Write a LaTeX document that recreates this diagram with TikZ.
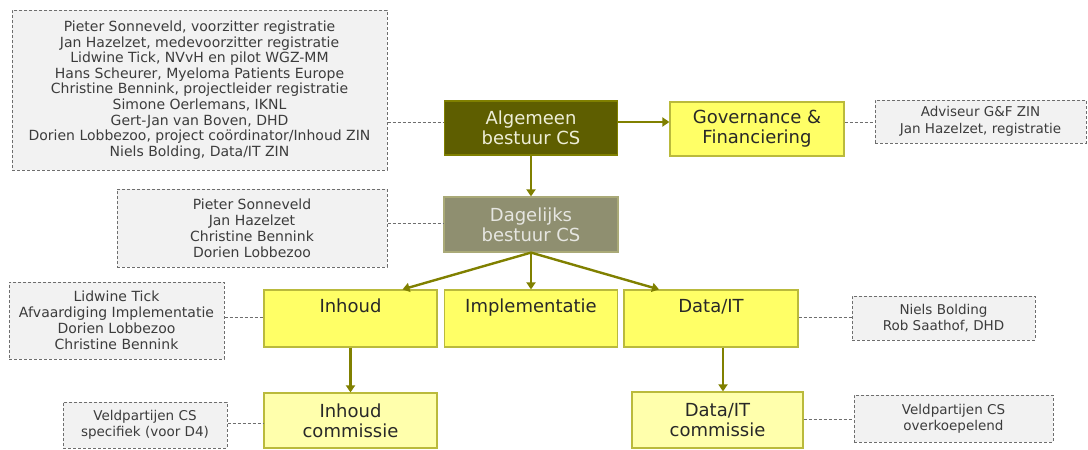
\documentclass[tikz,border=0pt]{standalone}
\usepackage{fontspec}
\setmainfont{DejaVu Sans}
\usetikzlibrary{arrows.meta}
\definecolor{olivedark}{RGB}{94,94,0}
\definecolor{olivemid}{RGB}{143,143,112}
\definecolor{oliveline}{RGB}{128,128,0}
\definecolor{yelbox}{RGB}{255,255,102}
\definecolor{yellight}{RGB}{255,255,172}
\definecolor{yelborder}{RGB}{186,186,60}
\definecolor{notefill}{RGB}{242,242,242}
\definecolor{notedraw}{RGB}{110,110,110}
\definecolor{notetext}{RGB}{60,60,60}
\definecolor{boxtext}{RGB}{40,40,40}
\tikzset{
  notebox/.style={draw=notedraw, line width=1pt, dash pattern=on 3pt off 2pt, fill=notefill,
    text=notetext, align=center, inner sep=0pt, anchor=center,
    font=\fontsize{14}{16}\selectfont},
  orgbox/.style={draw=yelborder, line width=1.2pt, fill=yelbox, text=boxtext, align=center,
    inner sep=0pt, anchor=center, font=\fontsize{18}{20}\selectfont},
  combox/.style={orgbox, fill=yellight},
  arr/.style={draw=oliveline, line width=2.4pt, -{Triangle[width=9pt,length=7pt]}},
  dashcon/.style={draw=notedraw, line width=1pt, dash pattern=on 3pt off 2pt},
}
\begin{document}
\begin{tikzpicture}[x=1pt,y=-1pt]
\useasboundingbox (0,0) rectangle (1088,450);

% main boxes
\node[orgbox, fill=olivedark, draw=oliveline, text={rgb,255:red,238;green,238;blue,215},
  minimum width=173pt, minimum height=54pt] (alg) at (531,128) {Algemeen\\bestuur CS};
\node[orgbox, minimum width=174pt, minimum height=54pt] (gov) at (757,129) {Governance \&\\Financiering};
\node[orgbox, fill=olivemid, draw={rgb,255:red,170;green,170;blue,120}, text={rgb,255:red,230;green,230;blue,225},
  minimum width=174pt, minimum height=55pt] (dag) at (531,224.5) {Dagelijks\\bestuur CS};

\node[orgbox, minimum width=173pt, minimum height=57pt] (inh) at (350.5,318.5) {Inhoud\\\strut};
\node[orgbox, minimum width=173pt, minimum height=57pt] (imp) at (531,318.5) {Implementatie\\\strut};
\node[orgbox, minimum width=174pt, minimum height=57pt] (dat) at (711,318.5) {Data/IT\\\strut};

\node[combox, minimum width=173pt, minimum height=55pt] (inhc) at (350.5,420.5) {Inhoud\\commissie};
\node[combox, minimum width=171pt, minimum height=56pt] (datc) at (717.5,420) {Data/IT\\commissie};

% notes
\node[notebox, font=\fontsize{14}{15.6}\selectfont, minimum width=375pt, minimum height=160pt] (n1) at (199.5,90)
  {Pieter Sonneveld, voorzitter registratie\\
   Jan Hazelzet, medevoorzitter registratie\\
   Lidwine Tick, NVvH\ en pilot WGZ-MM\\
   Hans Scheurer, Myeloma Patients Europe\\
   Christine Bennink, projectleider registratie\\
   Simone Oerlemans, IKNL\\
   Gert-Jan van Boven, DHD\\
   Dorien Lobbezoo, project coördinator/Inhoud ZIN\\
   Niels Bolding, Data/IT ZIN};
\node[notebox, font=\fontsize{13.5}{17}\selectfont, minimum width=211pt, minimum height=43pt] (n2) at (980.5,121.5)
  {Adviseur G\&F ZIN\\Jan Hazelzet, registratie};
\node[notebox, minimum width=270pt, minimum height=78pt] (n3) at (252,228)
  {Pieter Sonneveld\\Jan Hazelzet\\Christine Bennink\\Dorien Lobbezoo};
\node[notebox, minimum width=215pt, minimum height=77pt] (n4) at (116.5,320.5)
  {Lidwine Tick\\Afvaardiging Implementatie\\Dorien Lobbezoo\\Christine Bennink};
\node[notebox, font=\fontsize{13.5}{15.5}\selectfont, minimum width=183pt, minimum height=44pt] (n5) at (943.5,318)
  {Niels Bolding\\Rob Saathof, DHD};
\node[notebox, font=\fontsize{13.5}{16}\selectfont, minimum width=164pt, minimum height=46pt] (n6) at (145,425)
  {Veldpartijen CS\\specifiek (voor D4)};
\node[notebox, font=\fontsize{13.5}{16}\selectfont, minimum width=199pt, minimum height=47pt] (n7) at (953.5,418.5)
  {Veldpartijen CS\\overkoepelend};

% helper coordinates
\coordinate (y1) at (0,122);
\coordinate (y2) at (0,223);
\coordinate (y3) at (0,317);
\coordinate (y4) at (0,423);
\coordinate (y5) at (0,419);
\coordinate (x1) at (723,0);

% arrows
\draw[arr] (alg.east |- y1) -- (gov.west |- y1);
\draw[arr] (alg.south) -- (dag.north);
\draw[arr] (dag.south) -- ([xshift=52pt]inh.north);
\draw[arr] (dag.south) -- (imp.north);
\draw[arr] (dag.south) -- ([xshift=-52pt]dat.north);
\draw[arr] (inh.south) -- (inhc.north);
\draw[arr] (dat.south -| x1) -- (datc.north -| x1);

% dashed connectors
\draw[dashcon] (n1.east |- y1) -- (alg.west |- y1);
\draw[dashcon] (gov.east |- y1) -- (n2.west |- y1);
\draw[dashcon] (n3.east |- y2) -- (dag.west |- y2);
\draw[dashcon] (n4.east |- y3) -- (inh.west |- y3);
\draw[dashcon] (dat.east |- y3) -- (n5.west |- y3);
\draw[dashcon] (n6.east |- y4) -- (inhc.west |- y4);
\draw[dashcon] (datc.east |- y5) -- (n7.west |- y5);
\end{tikzpicture}
\end{document}
